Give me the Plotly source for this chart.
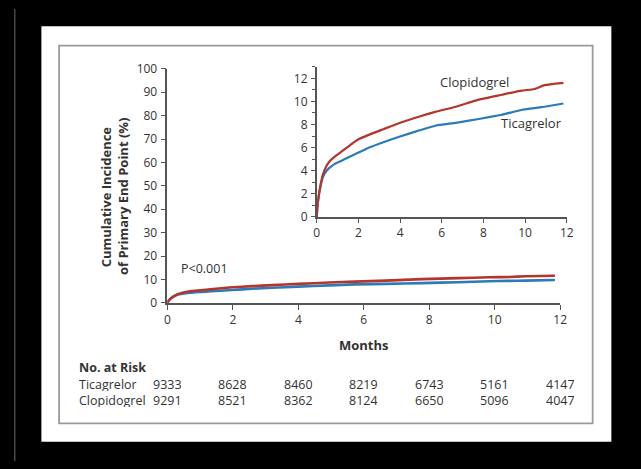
import plotly.graph_objects as go

W, H = 641, 469

# ---- data ----
months = [0, 0.03, 0.09, 0.19, 0.3, 0.46, 0.61, 0.85, 1.17, 1.48, 1.98, 2.58, 3.2, 4.0,
          4.94, 5.73, 6.67, 7.78, 8.88, 9.83, 10.45, 10.93, 11.84]
clopidogrel = [0, 0.8, 1.73, 2.85, 3.68, 4.38, 4.8, 5.2, 5.63, 6.05, 6.7, 7.17, 7.6, 8.15,
               8.7, 9.12, 9.54, 10.16, 10.58, 10.94, 11.08, 11.41, 11.61]
ticagrelor = [0, 0.8, 1.73, 2.7, 3.46, 3.96, 4.24, 4.57, 4.85, 5.13, 5.55, 6.05, 6.47, 6.97,
              7.5, 7.92, 8.15, 8.48, 8.85, 9.26, 9.42, 9.54, 9.82]

risk_months = [0, 2, 4, 6, 8, 10, 12]
risk_ticagrelor = [9333, 8628, 8460, 8219, 6743, 5161, 4147]
risk_clopidogrel = [9291, 8521, 8362, 8124, 6650, 5096, 4047]

main_yticks = list(range(0, 101, 10))
inset_yticks = list(range(0, 13, 2))
xticks = list(range(0, 13, 2))

RED = "#b3352b"
BLUE = "#2b7bbb"
AX = "#555555"
TXT = "#333333"
FONT = "Open Sans"


def px(x):
    return x / W


def py(y):
    return 1 - y / H


fig = go.Figure()

for name, ys, col in [("Ticagrelor", ticagrelor, BLUE), ("Clopidogrel", clopidogrel, RED)]:
    fig.add_trace(go.Scatter(x=months, y=ys, mode="lines", name=name,
                             line=dict(color=col, width=2.6, shape="spline", smoothing=0.4),
                             xaxis="x", yaxis="y", showlegend=False, hoverinfo="skip"))
for name, ys, col in [("Ticagrelor", ticagrelor, BLUE), ("Clopidogrel", clopidogrel, RED)]:
    fig.add_trace(go.Scatter(x=months, y=ys, mode="lines", name=name,
                             line=dict(color=col, width=2.2, shape="spline", smoothing=0.4),
                             xaxis="x2", yaxis="y2", showlegend=False, hoverinfo="skip"))

axis_common = dict(showgrid=False, zeroline=False, showline=True, linecolor=AX, linewidth=1.5,
                   ticks="outside", tickcolor=AX, tickwidth=1.3, ticklen=5,
                   tickfont=dict(family=FONT, size=12, color=TXT), fixedrange=True)

fig.update_layout(
    width=W, height=H,
    margin=dict(l=0, r=0, t=0, b=0),
    paper_bgcolor="black",
    plot_bgcolor="rgba(0,0,0,0)",
    font=dict(family=FONT, color=TXT),
    xaxis=dict(domain=[px(167), px(566)], range=[0, 12], tickvals=xticks, anchor="y",
               **axis_common),
    yaxis=dict(domain=[py(305), py(62)], range=[0, 100], tickvals=main_yticks, anchor="x",
               ticklabelstandoff=1, **axis_common),
    xaxis2=dict(domain=[px(318.7), px(572.7)], range=[0, 12], tickvals=xticks, anchor="y2",
                **{**axis_common, "ticklen": 4}),
    yaxis2=dict(domain=[py(215.7), py(60)], range=[0, 13], tickvals=inset_yticks, anchor="x2",
                minor=dict(dtick=1, ticks="outside", ticklen=3, tickcolor=AX, tickwidth=1.2),
                ticklabelstandoff=1, **{**axis_common, "ticklen": 4}),
)

# background panels
fig.add_shape(type="line", xref="paper", yref="paper", x0=px(12), x1=px(12), y0=0, y1=1,
              line=dict(color="#6a6a6a", width=1), layer="below")
fig.add_shape(type="rect", xref="paper", yref="paper", x0=px(39), x1=px(618), y0=py(449), y1=py(18),
              fillcolor="white", line=dict(width=0), layer="below")
fig.add_shape(type="rect", xref="paper", yref="paper", x0=px(57), x1=px(599), y0=py(430), y1=py(38),
              fillcolor="white", line=dict(color="#9a9a9a", width=1.8), layer="below")

ann = []
# y-axis title
ann.append(dict(text="<b>Cumulative Incidence</b>", x=px(105), y=py(195), xref="paper", yref="paper",
                textangle=-90, showarrow=False, font=dict(size=13, color=TXT),
                xanchor="center", yanchor="middle"))
ann.append(dict(text="<b>of Primary End Point (%)</b>", x=px(122), y=py(195), xref="paper", yref="paper",
                textangle=-90, showarrow=False, font=dict(size=13, color=TXT),
                xanchor="center", yanchor="middle"))
# x-axis title
ann.append(dict(text="<b>Months</b>", x=6, y=py(349), xref="x", yref="paper", showarrow=False,
                font=dict(size=13, color=TXT), xanchor="center", yanchor="middle"))
# p value
ann.append(dict(text="P<0.001", x=px(179), y=py(269), xref="paper", yref="paper", showarrow=False,
                font=dict(size=12.5, color=TXT), xanchor="left", yanchor="middle"))
# inset labels
ann.append(dict(text="Clopidogrel", x=px(479), y=py(75.7), xref="paper", yref="paper", showarrow=False,
                font=dict(size=13, color=TXT), xanchor="center", yanchor="middle"))
ann.append(dict(text="Ticagrelor", x=px(537), y=py(118.5), xref="paper", yref="paper", showarrow=False,
                font=dict(size=13, color=TXT), xanchor="center", yanchor="middle"))
# risk table
ann.append(dict(text="<b>No. at Risk</b>", x=px(75), y=py(371.5), xref="paper", yref="paper",
                showarrow=False, font=dict(size=12.5, color=TXT), xanchor="left", yanchor="middle",
                height=14))
for label, vals, yy in [("Ticagrelor", risk_ticagrelor, 389), ("Clopidogrel", risk_clopidogrel, 405.5)]:
    ann.append(dict(text=label, x=px(75), y=py(yy), xref="paper", yref="paper", showarrow=False,
                    font=dict(size=12.5, color=TXT), xanchor="left", yanchor="middle", height=14))
    for m, v in zip(risk_months, vals):
        ann.append(dict(text=str(v), x=m, y=py(yy), xref="x", yref="paper", showarrow=False,
                        font=dict(size=12.5, color=TXT), xanchor="center", yanchor="middle",
                        height=14))
fig.update_layout(annotations=ann)

fig.write_html("out.html")
